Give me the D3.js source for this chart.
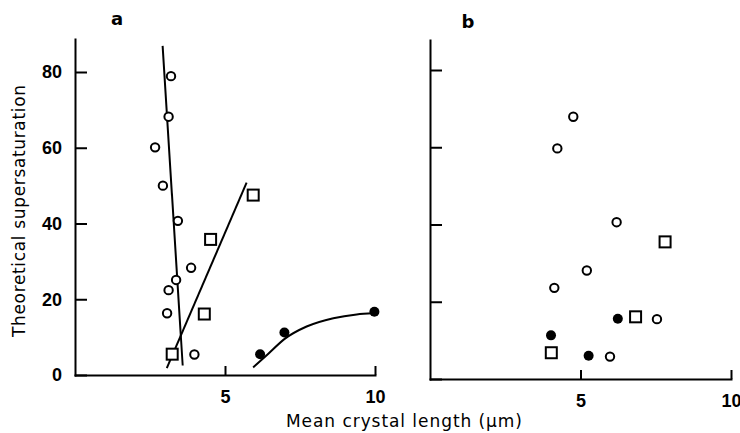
<!DOCTYPE html>
<html lang="en">
<head>
<meta charset="utf-8">
<script src="https://d3js.org/d3.v7.min.js"></script>
<style>
  body { margin: 0; background: #fff; }
  svg text { font-family: "DejaVu Sans", sans-serif; fill: #000; }
  .axis path, .axis line { stroke: #000; stroke-width: 2; fill: none; }
  .axis text { font-family: "Liberation Sans", sans-serif; font-size: 18px; font-weight: bold; }
  .fit { fill: none; stroke: #000; stroke-width: 2; }
</style>
</head>
<body>
<script>
// panel a data (x = mean crystal length um, y = theoretical supersaturation)
var aOpen = [[3.2,78.9],[3.12,68.2],[2.67,60.1],[2.93,50.0],[3.43,40.7],
             [3.87,28.3],[3.37,25.1],[3.12,22.4],[3.07,16.3],[3.98,5.4]];
var aSquare = [[3.24,5.5],[4.31,16.1],[4.52,35.8],[5.94,47.5]];
var aFilled = [[6.17,5.5],[6.98,11.2],[9.98,16.7]];
// hand drawn fit lines in panel a
var aSteepLine = [[2.92,86.9],[3.59,2.5]];
var aSquareLine = [[3.06,1.8],[5.72,50.8]];
var aCurve = [[5.94,2.0],[6.39,5.2],[7.0,9.6],[7.72,12.8],[8.61,15.0],[9.39,16.0],[9.94,16.3]];

// panel b data
var bOpen = [[4.76,67.9],[4.23,59.7],[6.2,40.6],[5.21,28.1],[4.13,23.6],[7.54,15.5],[5.98,5.8]];
var bFilled = [[4.02,11.3],[5.27,6.0],[6.24,15.6]];
var bSquare = [[7.81,35.5],[6.83,16.1],[4.03,6.8]];

var yTicks = [0, 20, 40, 60, 80];
var xTicks = [5, 10];

var svg = d3.select("body").append("svg")
    .attr("width", 740)
    .attr("height", 433);

function drawPanel(p) {
  var x = d3.scaleLinear().domain([0, 10]).range(p.xRange);
  var y = d3.scaleLinear().domain([0, 80]).range(p.yRange);
  var yTop = y.invert(p.top);
  var yAx = d3.scaleLinear().domain([0, yTop]).range([y(0), p.top]);

  var g = svg.append("g");

  g.append("g")
      .attr("class", "axis")
      .attr("transform", "translate(" + x(0) + ",0)")
      .call(d3.axisLeft(yAx).tickValues(yTicks)
          .tickSizeInner(-12).tickSizeOuter(0).tickPadding(13)
          .tickFormat(p.labels ? d3.format("d") : ""));

  g.append("g")
      .attr("class", "axis")
      .attr("transform", "translate(0," + y(0) + ")")
      .call(d3.axisBottom(x).tickValues(xTicks)
          .tickSizeInner(-9).tickSizeOuter(0).tickPadding(15));

  g.selectAll(".axis .domain").attr("stroke-linecap", "square");

  var line = d3.line().x(function(d) { return x(d[0]); }).y(function(d) { return y(d[1]); });
  (p.lines || []).forEach(function(l) {
    g.append("path").attr("class", "fit").attr("d", line(l));
  });
  if (p.curve) {
    g.append("path").attr("class", "fit")
        .attr("d", line.curve(d3.curveMonotoneX)(p.curve));
  }

  g.selectAll(".open").data(p.open).enter().append("circle")
      .attr("cx", function(d) { return x(d[0]); })
      .attr("cy", function(d) { return y(d[1]); })
      .attr("r", 4.2)
      .attr("fill", "#fff").attr("stroke", "#000").attr("stroke-width", 2);

  g.selectAll(".sq").data(p.square).enter().append("rect")
      .attr("x", function(d) { return x(d[0]) - 5.5; })
      .attr("y", function(d) { return y(d[1]) - 5.5; })
      .attr("width", 11).attr("height", 11)
      .attr("fill", "#fff").attr("stroke", "#000").attr("stroke-width", 2);

  g.selectAll(".filled").data(p.filled).enter().append("circle")
      .attr("cx", function(d) { return x(d[0]); })
      .attr("cy", function(d) { return y(d[1]); })
      .attr("r", 5)
      .attr("fill", "#000");

  g.append("text")
      .attr("x", p.letterX).attr("y", p.letterY)
      .attr("text-anchor", "middle")
      .style("font-size", "18px").style("font-weight", "bold")
      .text(p.letter);
}

drawPanel({
  xRange: [75, 375], yRange: [375, 72], top: 39, labels: true,
  open: aOpen, square: aSquare, filled: aFilled,
  lines: [aSteepLine, aSquareLine], curve: aCurve,
  letter: "a", letterX: 117, letterY: 25
});

drawPanel({
  xRange: [430, 731], yRange: [379, 70], top: 40, labels: false,
  open: bOpen, square: bSquare, filled: bFilled,
  letter: "b", letterX: 468, letterY: 28
});

svg.append("text")
    .attr("transform", "translate(25,211) rotate(-90)")
    .attr("text-anchor", "middle")
    .attr("textLength", 252)
    .style("font-size", "17px")
    .text("Theoretical supersaturation");

svg.append("text")
    .attr("x", 404).attr("y", 427)
    .attr("text-anchor", "middle")
    .attr("textLength", 236)
    .style("font-size", "17px")
    .text("Mean crystal length (\u03bcm)");
</script>
</body>
</html>
